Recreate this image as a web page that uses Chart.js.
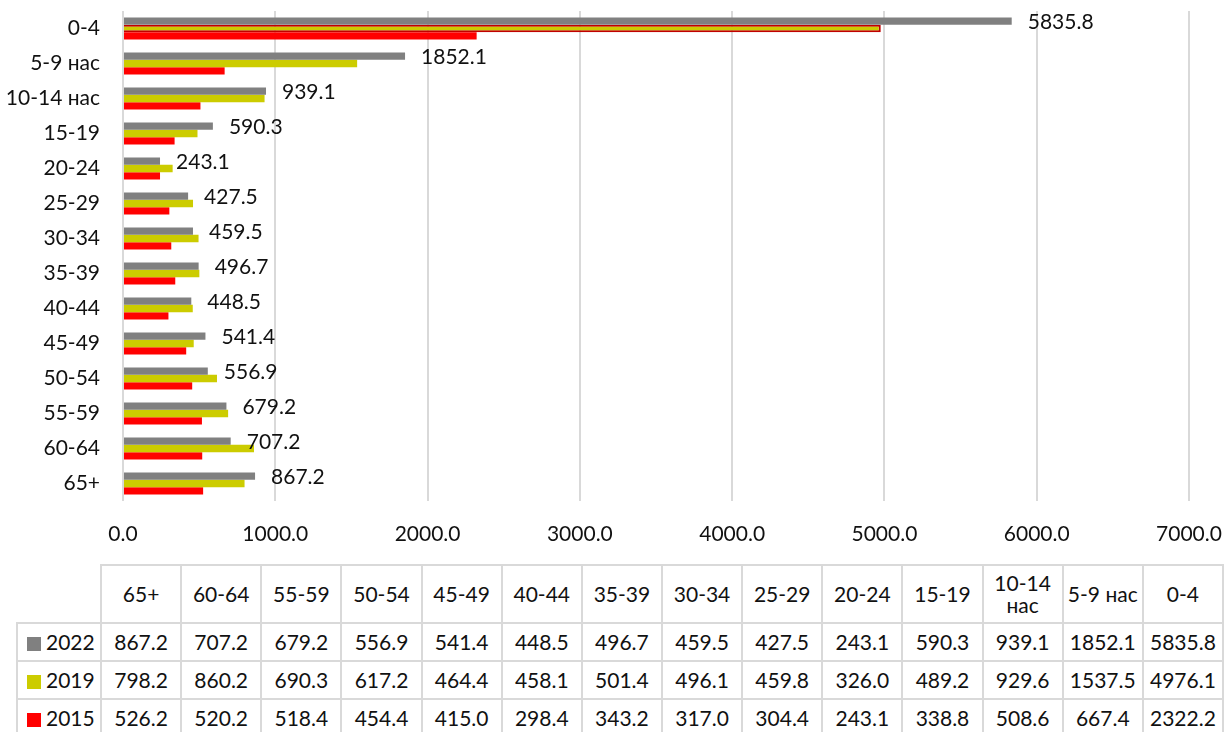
<!DOCTYPE html>
<html>
<head>
<meta charset="utf-8">
<script src="https://cdn.jsdelivr.net/npm/chart.js@4"></script>
<style>
  html, body { margin: 0; padding: 0; background: #fff; }
  body { width: 1226px; height: 732px; overflow: hidden; position: relative; font-family: Lato, "Open Sans", sans-serif; }
  #wrap { position: absolute; left: 0; top: 0; width: 1226px; height: 560px; }
  #tbl { position: absolute; left: 16px; top: 564px; width: 1208px; border-collapse: collapse; table-layout: fixed; font-size: 21px; color: #111; }
  #tbl td { border: 2px solid #d9d9d9; text-align: center; padding: 0; height: 36px; line-height: 22px; }
  #tbl tr.head td { height: 56px; }
  #tbl td.leg { text-align: left; padding-left: 9px; }
  #tbl tr.head td.leg { border-top: none; border-left: none; }
  .sw { display: inline-block; width: 14px; height: 14px; margin-right: 5px; vertical-align: -1px; }
</style>
</head>
<body>
<div id="wrap"><canvas id="chart" width="1226" height="560"></canvas></div>
<table id="tbl"></table>
<script>
// categories as in the table (the chart shows them bottom-up)
const ageGroups = ['65+', '60-64', '55-59', '50-54', '45-49', '40-44', '35-39', '30-34', '25-29', '20-24', '15-19', '10-14 нас', '5-9 нас', '0-4'];
const years = ['2022', '2019', '2015'];
const values2022 = [867.2, 707.2, 679.2, 556.9, 541.4, 448.5, 496.7, 459.5, 427.5, 243.1, 590.3, 939.1, 1852.1, 5835.8];
const values2019 = [798.2, 860.2, 690.3, 617.2, 464.4, 458.1, 501.4, 496.1, 459.8, 326.0, 489.2, 929.6, 1537.5, 4976.1];
const values2015 = [526.2, 520.2, 518.4, 454.4, 415.0, 298.4, 343.2, 317.0, 304.4, 243.1, 338.8, 508.6, 667.4, 2322.2];
const xTicks = [0, 1000, 2000, 3000, 4000, 5000, 6000, 7000];
const colors = ['#808080', '#cccc00', '#ff0000'];

const FONT = 'Lato, "Open Sans", sans-serif';

// value labels next to the 2022 bars
const labels2022 = {
  id: 'labels2022',
  afterDatasetsDraw(chart) {
    const ctx = chart.ctx;
    const meta = chart.getDatasetMeta(0);
    ctx.save();
    ctx.font = '21px ' + FONT;
    ctx.fillStyle = '#111';
    ctx.textAlign = 'left';
    ctx.textBaseline = 'middle';
    meta.data.forEach((bar, i) => {
      ctx.fillText(values2022[i].toFixed(1), bar.x + 16, bar.y + 1);
    });
    ctx.restore();
  }
};

// selected point in the original: 0-4 bar of 2019 has a red outline
const sel = ageGroups.indexOf('0-4');

new Chart(document.getElementById('chart'), {
  type: 'bar',
  data: {
    labels: ageGroups,
    datasets: [
      { label: years[0], data: values2022, backgroundColor: colors[0] },
      {
        label: years[1], data: values2019, backgroundColor: colors[1],
        borderColor: '#c00000',
        borderWidth: ageGroups.map((g, i) => i === sel ? 2 : 0)
      },
      { label: years[2], data: values2015, backgroundColor: colors[2] }
    ]
  },
  options: {
    indexAxis: 'y',
    responsive: false,
    animation: false,
    devicePixelRatio: 1,
    layout: { padding: { left: 0, right: 37, top: 11, bottom: 0 } },
    datasets: { bar: { categoryPercentage: 0.63, barPercentage: 1 } },
    plugins: { legend: { display: false }, tooltip: { enabled: false } },
    scales: {
      x: {
        min: 0,
        max: 7000,
        afterBuildTicks: s => { s.ticks = xTicks.map(v => ({ value: v })); },
        afterFit: s => { s.height = 59; },
        ticks: {
          padding: 0,
          maxRotation: 0,
          color: '#111',
          font: { family: FONT, size: 21 },
          callback: v => Number(v).toFixed(1)
        },
        // tick marks kept invisible, only used as label offset
        grid: { color: '#d9d9d9', lineWidth: 2, drawTicks: true, tickLength: 21, tickColor: 'rgba(0,0,0,0)' },
        border: { display: false }
      },
      y: {
        reverse: true,
        afterFit: s => { s.width = 123; },
        ticks: { padding: 0, color: '#111', font: { family: FONT, size: 21, lineHeight: 1 } },
        grid: { display: false, drawTicks: true, tickLength: 23 },
        border: { display: false }
      }
    }
  },
  plugins: [labels2022]
});

// data table under the chart
const tbl = document.getElementById('tbl');
let html = '<colgroup><col style="width:84px">' + ageGroups.map(() => '<col>').join('') + '</colgroup>';
html += '<tr class="head"><td class="leg"></td>' + ageGroups.map(g => '<td>' + g.replace('10-14 нас', '10-14<br>нас') + '</td>').join('') + '</tr>';
[values2022, values2019, values2015].forEach((vals, k) => {
  html += '<tr><td class="leg"><span class="sw" style="background:' + colors[k] + '"></span>' + years[k] + '</td>' +
    vals.map(v => '<td>' + v.toFixed(1) + '</td>').join('') + '</tr>';
});
tbl.innerHTML = html;
</script>
</body>
</html>
